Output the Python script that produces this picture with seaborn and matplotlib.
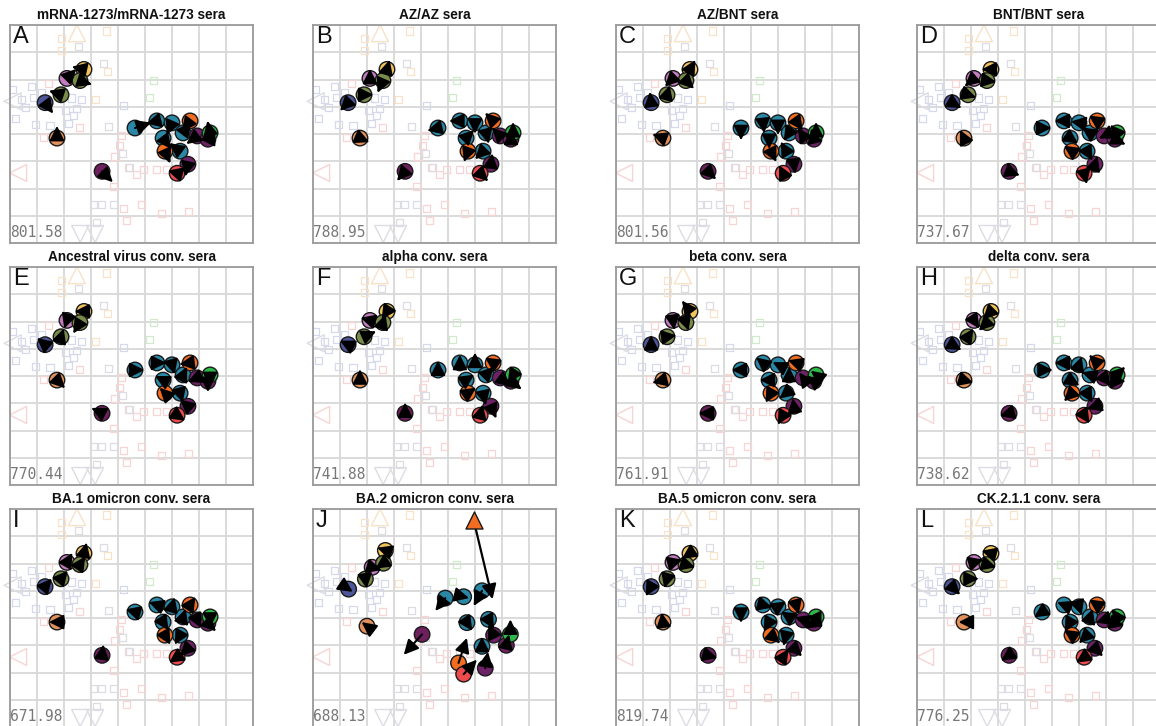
import numpy as np
import pandas as pd
import matplotlib
matplotlib.use("Agg")
import matplotlib.pyplot as plt
import seaborn as sns

sns.set_theme(style="white")
plt.rcParams['font.family'] = ['Liberation Sans', 'DejaVu Sans']

# ---------------- data ----------------
titles = ["mRNA-1273/mRNA-1273 sera", "AZ/AZ sera", "AZ/BNT sera", "BNT/BNT sera",
          "Ancestral virus conv. sera", "alpha conv. sera", "beta conv. sera", "delta conv. sera",
          "BA.1 omicron conv. sera", "BA.2 omicron conv. sera", "BA.5 omicron conv. sera",
          "CK.2.1.1 conv. sera"]
letters = list("ABCDEFGHIJKL")
stress = ["801.58", "788.95", "801.56", "737.67", "770.44", "741.88",
          "761.91", "738.62", "671.98", "688.13", "819.74", "776.25"]

# antigens (map units, y grows downward)
ag_group = ["yellow", "pink", "olive", "olive", "navy", "tan", "dpurple",
            "teal", "teal", "teal", "teal", "teal", "teal",
            "orange", "orange", "purple", "purple", "purple", "green", "red"]
base_x = [2.74, 2.11, 2.59, 1.89, 1.30, 1.74, 3.41,
          4.63, 5.44, 6.00, 5.67, 6.30, 6.41,
          6.67, 5.74, 6.93, 7.33, 6.59, 7.41, 6.19]
base_y = [1.63, 1.96, 2.04, 2.56, 2.85, 4.15, 5.37,
          3.78, 3.52, 3.59, 4.15, 4.63, 3.96,
          3.52, 4.63, 4.07, 4.19, 5.11, 3.96, 5.44]

# panel J has its own positions (orange #1 is off the map -> triangle)
j_x = [2.68, 2.19, 2.61, 1.94, 1.32, 2.00, 4.04,
       4.90, 5.58, 6.26, 5.70, 6.26, 6.50,
       np.nan, 5.39, 6.69, 7.16, 6.38, 7.31, 5.58]
j_y = [1.52, 2.14, 1.99, 2.57, 2.94, 4.30, 4.60,
       3.27, 3.22, 3.00, 4.17, 5.04, 4.05,
       np.nan, 5.65, 4.63, 5.00, 5.84, 4.60, 6.06]
j_off_x, j_off_y = 5.95, 0.41
j_off_dx, j_off_dy = 0.70, 2.90

arrow_dx = {
    "A": [-0.45, 0.35, 0.45, -0.45, 0.30, 0.00, 0.40, 0.60, -0.40, -0.20, 0.30, -0.40, 0.30, -0.30, 0.20, -0.40, -0.30, -0.10, -0.10, -0.35],
    "B": [0.10, 0.00, -0.20, 0.35, -0.30, 0.35, -0.30, -0.40, -0.40, 0.00, 0.30, -0.30, 0.10, -0.30, -0.15, -0.30, 0.00, 0.05, 0.00, 0.30],
    "C": [0.20, -0.30, 0.30, 0.10, -0.05, -0.40, 0.30, 0.00, 0.05, 0.00, 0.00, -0.20, -0.20, 0.25, 0.20, -0.20, -0.10, 0.05, 0.00, -0.15],
    "D": [-0.35, -0.35, 0.35, 0.30, 0.35, -0.15, 0.40, 0.35, -0.35, -0.30, 0.30, 0.20, -0.30, -0.30, -0.30, -0.20, 0.40, 0.10, -0.25, 0.10],
    "E": [-0.35, -0.10, -0.25, 0.10, -0.30, 0.30, -0.40, 0.35, 0.35, 0.10, -0.30, 0.10, 0.15, -0.40, -0.20, -0.35, 0.00, -0.30, 0.00, 0.30],
    "F": [-0.20, -0.35, 0.10, 0.45, -0.30, 0.00, 0.00, 0.00, 0.00, 0.00, 0.30, 0.10, 0.30, -0.30, 0.30, 0.40, 0.40, 0.20, -0.20, 0.10],
    "G": [-0.30, 0.05, 0.10, 0.35, 0.00, -0.40, -0.35, -0.35, -0.25, -0.20, -0.35, -0.25, 0.00, -0.30, -0.20, -0.15, -0.25, -0.05, -0.20, -0.20],
    "H": [-0.30, 0.20, -0.30, 0.20, 0.35, 0.35, -0.35, 0.40, -0.35, 0.10, 0.35, 0.20, -0.30, -0.30, -0.30, 0.25, 0.40, -0.30, 0.30, 0.20],
    "I": [0.10, 0.20, 0.20, 0.25, 0.25, -0.30, 0.05, -0.35, -0.30, 0.10, 0.20, -0.20, 0.10, 0.20, 0.20, 0.15, 0.30, -0.30, 0.00, -0.30],
    "J": [-0.30, 0.35, -0.30, 0.05, 0.15, -0.20, -0.68, -0.37, 0.20, -0.31, 0.20, 0.00, 0.20, 0.00, 0.31, -0.20, 0.10, 0.10, 0.00, 0.49],
    "K": [-0.30, 0.35, 0.35, -0.10, -0.20, -0.05, 0.35, 0.00, 0.35, 0.30, -0.20, -0.10, -0.30, 0.10, 0.35, -0.30, -0.30, 0.30, 0.20, 0.20],
    "L": [-0.35, 0.35, 0.35, 0.40, 0.30, -0.20, -0.30, -0.30, -0.25, 0.10, -0.20, -0.30, 0.10, -0.30, -0.30, -0.30, 0.35, 0.30, -0.20, -0.30],
}
arrow_dy = {
    "A": [-0.10, -0.35, 0.15, -0.15, 0.40, -0.45, 0.40, -0.20, 0.10, 0.45, 0.40, -0.30, -0.40, 0.40, 0.45, 0.30, 0.00, 0.45, -0.45, -0.10],
    "B": [-0.35, -0.35, 0.45, 0.00, 0.30, 0.15, 0.35, 0.10, 0.00, 0.40, -0.30, 0.30, 0.40, -0.30, 0.40, -0.30, -0.35, -0.40, -0.40, 0.30],
    "C": [-0.35, 0.30, 0.30, -0.35, -0.40, -0.15, 0.30, 0.45, 0.45, 0.45, 0.40, -0.35, 0.30, 0.35, 0.40, -0.30, -0.40, 0.35, -0.40, -0.30],
    "D": [0.00, 0.30, 0.05, 0.10, 0.20, -0.30, 0.15, 0.00, 0.00, -0.05, 0.20, 0.35, -0.20, -0.20, -0.20, 0.10, 0.20, -0.30, -0.30, 0.40],
    "E": [0.00, 0.30, 0.40, -0.30, -0.25, 0.30, -0.20, 0.00, 0.00, 0.35, -0.15, 0.35, -0.30, 0.05, -0.20, 0.15, 0.40, -0.25, 0.45, 0.20],
    "F": [0.30, -0.10, -0.30, -0.20, -0.15, -0.40, -0.40, -0.35, -0.30, -0.45, -0.20, 0.45, -0.30, -0.20, -0.20, 0.30, 0.30, 0.45, 0.30, -0.40],
    "G": [-0.40, 0.35, 0.30, -0.05, -0.35, 0.10, 0.00, 0.00, -0.20, -0.10, 0.00, 0.20, -0.30, -0.10, 0.35, -0.20, -0.20, -0.30, -0.15, 0.35],
    "H": [0.30, 0.30, 0.30, -0.30, 0.20, 0.10, 0.10, 0.00, 0.00, -0.30, 0.20, 0.35, -0.10, -0.30, 0.30, 0.30, 0.00, 0.10, -0.30, 0.30],
    "I": [-0.40, -0.35, -0.30, -0.30, -0.30, 0.00, -0.40, -0.10, -0.10, -0.35, 0.30, 0.35, -0.30, -0.30, 0.35, 0.30, 0.30, 0.30, 0.40, 0.20],
    "J": [-0.10, 0.10, 0.20, 0.35, 0.10, -0.15, 0.75, 0.47, 0.05, 0.56, 0.30, -0.35, 0.35, 0.00, -0.92, -0.40, -0.40, -0.60, -0.55, -0.53],
    "K": [0.20, -0.10, 0.10, 0.35, 0.35, -0.35, 0.10, 0.40, 0.10, -0.20, 0.35, 0.40, -0.20, 0.35, 0.30, -0.10, 0.20, 0.30, 0.40, -0.30],
    "L": [-0.10, -0.10, 0.10, 0.00, 0.30, 0.00, 0.20, 0.20, -0.10, 0.30, 0.35, 0.30, -0.30, -0.20, -0.20, 0.10, 0.10, 0.30, -0.30, 0.20],
}

# faded sera (squares)
sera_x = [3.56, 1.91, 1.91, 2.53, 3.46, 3.60, 5.31, 5.16, 4.22,
          0.10, 0.80, 1.42, 0.43, 0.86, 1.17, 2.28, 2.65, 3.15, 2.47, 2.04, 2.35,
          0.19, 0.93, 1.48, 2.16, 2.59, 1.23, 3.64, 0.56,
          4.14, 4.07, 3.89, 4.38, 4.69, 4.94, 5.43, 5.80, 3.83, 3.09, 3.40, 3.83,
          4.20, 4.88, 5.62, 6.60, 4.32, 3.21, 4.17, 4.44]
sera_y = [0.22, 0.49, 0.93, 0.80, 1.40, 1.69, 2.04, 2.65, 2.94,
          2.38, 2.26, 2.16, 2.72, 2.65, 2.47, 2.68, 2.75, 2.75, 3.05, 3.15, 3.33,
          3.42, 3.64, 3.70, 3.62, 3.77, 4.14, 3.74, 3.02,
          4.07, 4.41, 4.81, 5.22, 5.49, 5.31, 5.31, 5.31, 5.93, 6.58, 6.58, 6.60,
          6.73, 6.58, 6.91, 6.85, 7.16, 7.26, 4.73, 5.22]
sera_col = ["peach", "peach", "peach", "grey", "grey", "peach", "green", "green", "blue",
            "blue", "blue", "pink", "blue", "blue", "blue", "blue", "blue", "peach", "blue", "blue", "blue",
            "blue", "blue", "blue", "blue", "pink", "pink", "grey", "blue",
            "pink", "pink", "pink", "pink", "pink", "pink", "pink", "pink", "pink", "grey", "grey", "grey",
            "pink", "pink", "pink", "pink", "pink", "grey", "grey", "grey"]

# faded off-map antigens (triangles)
tri_x = [2.48, 0.30, 2.60, 3.15, 0.10]
tri_y = [0.30, 5.43, 7.67, 7.67, 2.80]
tri_marker = ["^", "<", "v", "v", "<"]
tri_col = ["peach", "pink", "grey", "grey", "grey"]

palette = {"yellow": "#f1c35c", "pink": "#c47cc0", "olive": "#7a8c4a", "navy": "#4d5699",
           "tan": "#e0915c", "dpurple": "#6e1f5e", "teal": "#2a88a6", "orange": "#f26d21",
           "purple": "#6e2266", "green": "#2eb84a", "red": "#ef4b4f"}
faint = {"peach": "#f8e2c8", "grey": "#dcdce4", "green": "#d0ebca", "blue": "#d6d8ec", "pink": "#f8d4d4"}

# ---------------- figure ----------------
W, H = 1156, 726
fig = plt.figure(figsize=(W / 100, H / 100), dpi=100)
col_left = [10, 313, 616, 917]
row_top = [25, 267, 509]
aw, ah = 243, 218

arrow_style = "-|>,head_length=0.8,head_width=0.4"

for i, L in enumerate(letters):
    r, c = divmod(i, 4)
    ax = fig.add_axes([col_left[c] / W, (H - row_top[r] - ah) / H, aw / W, ah / H])
    ax.set_xlim(0, 9)
    ax.set_ylim(8, 0)
    ax.set_xticks(range(10))
    ax.set_yticks(range(9))
    ax.grid(True, color="#d8d8d8", lw=1.3)
    ax.set_axisbelow(True)
    ax.tick_params(labelbottom=False, labelleft=False, length=0)
    for s in ax.spines.values():
        s.set_color("#9a9a9a")
        s.set_linewidth(1.3)

    # faded background
    ax.scatter(sera_x, sera_y, marker="s", s=26, facecolors="none",
               edgecolors=[faint[k] for k in sera_col], linewidths=0.9, zorder=1)
    for tx, ty, tm, tc in zip(tri_x, tri_y, tri_marker, tri_col):
        ax.scatter([tx], [ty], marker=tm, s=150, facecolors="none",
                   edgecolors=faint[tc], linewidths=1.0, zorder=1, clip_on=False)

    xs = j_x if L == "J" else base_x
    ys = j_y if L == "J" else base_y
    df = pd.DataFrame({"x": xs, "y": ys, "group": ag_group}).dropna()
    sns.scatterplot(data=df, x="x", y="y", hue="group", palette=palette, s=125,
                    edgecolor="#1a1a1a", linewidth=1.0, legend=False, ax=ax, zorder=3)
    ax.set_xlabel("")
    ax.set_ylabel("")

    for x0, y0, dx, dy in zip(xs, ys, arrow_dx[L], arrow_dy[L]):
        if np.isnan(x0):
            continue
        ax.annotate("", xy=(x0 + dx, y0 + dy), xytext=(x0, y0),
                    arrowprops=dict(arrowstyle=arrow_style, color="black", lw=1.5,
                                    shrinkA=0, shrinkB=0, mutation_scale=11), zorder=4)
    if L == "J":
        ax.annotate("", xy=(j_off_x + j_off_dx, j_off_y + j_off_dy), xytext=(j_off_x, j_off_y),
                    arrowprops=dict(arrowstyle=arrow_style, color="black", lw=1.6,
                                    shrinkA=0, shrinkB=0, mutation_scale=11), zorder=4)
        ax.scatter([j_off_x], [j_off_y], marker="^", s=150, color=palette["orange"],
                   edgecolors="#1a1a1a", linewidths=1.0, zorder=5)

    ax.set_title(titles[i], fontsize=9.8, fontweight="bold", pad=4, color="#111111")
    ax.text(0.012, 0.995, L, transform=ax.transAxes, fontsize=17, va="top", ha="left",
            color="#111111", zorder=6)
    ax.text(0.0, 0.012, stress[i], transform=ax.transAxes, fontsize=10.5, va="bottom", ha="left",
            family="DejaVu Sans Mono", color="#777777", zorder=6)

fig.savefig("out.png", dpi=100)
